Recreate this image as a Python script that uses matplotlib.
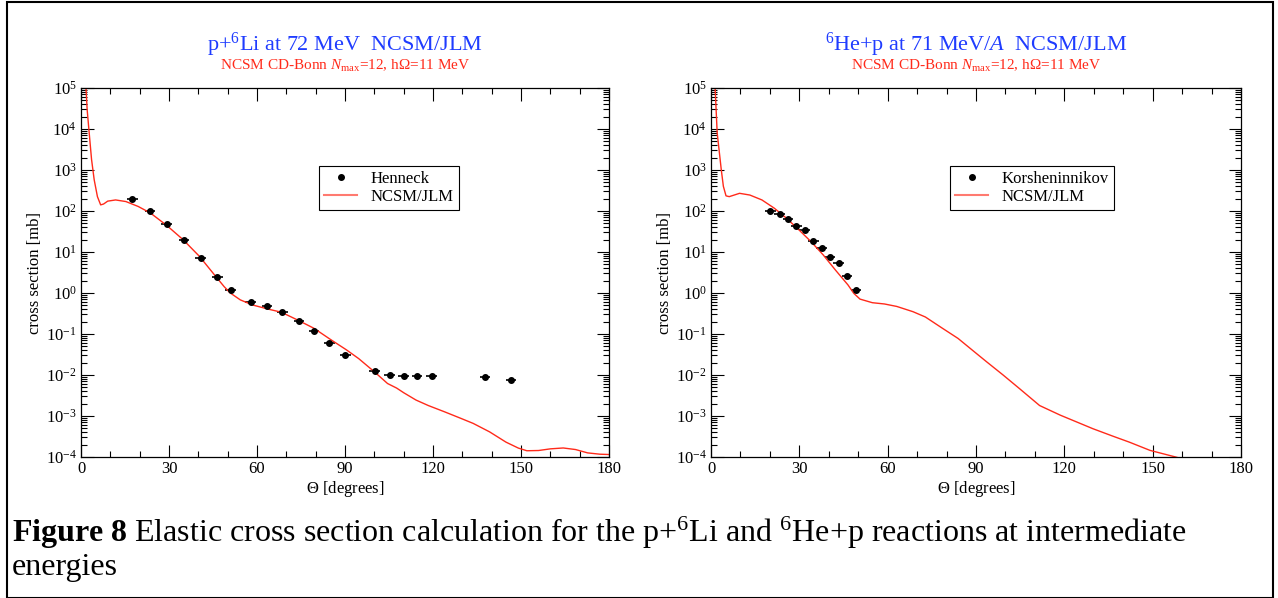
import numpy as np
import matplotlib
matplotlib.use('Agg')
import matplotlib.pyplot as plt
from matplotlib.patches import Rectangle
from matplotlib.lines import Line2D

plt.rcParams['font.family'] = ['Liberation Serif', 'DejaVu Serif']
plt.rcParams['mathtext.fontset'] = 'custom'
plt.rcParams['mathtext.rm'] = 'Liberation Serif'
plt.rcParams['mathtext.it'] = 'Liberation Serif:italic'
plt.rcParams['mathtext.bf'] = 'Liberation Serif:bold'

# p + 6Li at 72 MeV: Henneck data
henneck_theta = [17.5, 23.5, 29.2, 35.1, 40.8, 46.5, 51.0, 57.8, 63.4, 68.6, 74.3, 79.4, 84.7, 90.1,
                 100.1, 105.2, 110.0, 114.6, 119.5, 137.7, 146.6]
henneck_xs = [195, 99, 48, 20, 7.0, 2.45, 1.2, 0.59, 0.48, 0.34, 0.21, 0.116, 0.060, 0.031,
              0.0127, 0.0099, 0.0092, 0.0094, 0.0092, 0.0090, 0.0074]

# p + 6Li NCSM/JLM curve
li_theta = [1.7, 2.1, 2.8, 3.6, 4.5, 5.6, 6.7, 7.7, 9.1, 11.8, 15.3, 19.5, 23.7, 29.3, 34.8, 40.4,
            46.0, 48.8, 50.9, 54.3, 58.5, 64.1, 68.3, 73.8, 79.4, 85.0, 90.5, 94.7, 100.3, 104.5,
            107.6, 110.0, 114.2, 118.4, 124.0, 129.6, 133.7, 139.3, 144.9, 149.1, 152.0, 156.0,
            160.0, 164.4, 168.6, 172.7, 176.9, 180.0]
li_xs = [1e5, 2.95e4, 7.9e3, 1.8e3, 575, 224, 141, 148, 174, 186, 170, 129, 89, 44, 20, 7.8,
         2.5, 1.43, 1.0, 0.68, 0.51, 0.40, 0.34, 0.22, 0.138, 0.074, 0.041, 0.025, 0.0115, 0.0062,
         0.0048, 0.0037, 0.00245, 0.0018, 0.00126, 0.00087, 0.00066, 0.00041, 0.00023, 0.000165,
         0.000142, 0.000144, 0.000158, 0.000166, 0.000152, 0.000126, 0.000117, 0.000115]

# 6He + p at 71 MeV/A: Korsheninnikov data
kors_theta = [20.2, 23.3, 26.2, 29.0, 31.8, 34.8, 37.6, 40.4, 43.4, 46.2, 49.2]
kors_xs = [102, 83, 64, 42, 34, 18.6, 12.8, 7.4, 5.4, 2.56, 1.2]

# 6He + p NCSM/JLM curve
he_theta = [1.4, 2.1, 3.5, 4.2, 5.1, 6.2, 9.7, 13.2, 17.3, 21.5, 25.7, 29.8, 34.0, 38.1, 42.3,
            46.5, 48.5, 50.6, 54.8, 58.9, 63.1, 68.6, 72.8, 78.4, 83.9, 89.4, 93.6, 99.2, 104.7,
            111.6, 118.6, 124.1, 129.7, 136.6, 142.1, 149.1, 157.8, 160.0]
he_xs = [1e5, 8e3, 1000, 400, 234, 224, 270, 245, 186, 117, 66, 35, 17.8, 8.5, 3.6,
         1.58, 0.98, 0.71, 0.58, 0.54, 0.47, 0.35, 0.26, 0.141, 0.078, 0.037, 0.021, 0.010, 0.0047,
         0.0018, 0.00105, 0.00072, 0.00049, 0.00032, 0.00023, 0.000145, 0.0001, 0.00009]

x_err = 1.8
red = '#ff2a1a'

fig = plt.figure(figsize=(12.78, 5.98), dpi=100)

panels = [
    dict(rect=[81 / 1278, 1 - 457 / 598, 528 / 1278, 369 / 598],
         title=r'p+$^{6}$Li at 72 MeV  NCSM/JLM',
         data=(henneck_theta, henneck_xs, 'Henneck'), curve=(li_theta, li_xs)),
    dict(rect=[711 / 1278, 1 - 457 / 598, 530 / 1278, 369 / 598],
         title=r'$^{6}$He+p at 71 MeV/$A$  NCSM/JLM',
         data=(kors_theta, kors_xs, 'Korsheninnikov'), curve=(he_theta, he_xs)),
]

for p in panels:
    ax = fig.add_axes(p['rect'])
    th, xs, name = p['data']
    ax.errorbar(th, xs, xerr=x_err, fmt='o', color='black', ms=4, elinewidth=1.2, capsize=0)
    ax.plot(p['curve'][0], p['curve'][1], color=red, lw=1.0)
    ax.set_yscale('log')
    ax.set_xlim(0, 180)
    ax.set_ylim(1e-4, 1e5)
    ax.set_xticks(np.arange(0, 181, 30))
    ax.set_xticks(np.arange(0, 181, 10), minor=True)
    ax.set_yticks([10.0 ** k for k in range(-4, 6)])
    ax.yaxis.set_minor_locator(matplotlib.ticker.LogLocator(base=10, subs=np.arange(2, 10), numticks=20))
    ax.yaxis.set_minor_formatter(matplotlib.ticker.NullFormatter())
    ax.tick_params(which='both', direction='in', top=True, right=True, labelsize=12, pad=3)
    ax.tick_params(which='major', length=9, width=0.8)
    ax.tick_params(which='minor', length=4.5, width=0.8)
    for s in ax.spines.values():
        s.set_linewidth(0.9)
    ax.set_xlabel(r'$\Theta$ [degrees]', fontsize=12, labelpad=1)
    ax.set_ylabel('cross section [mb]', fontsize=12, labelpad=2)
    handles = [Line2D([], [], ls='none', marker='o', ms=4, color='black'),
               Line2D([], [], color='#ff7a70', lw=1.5)]
    leg = ax.legend(handles, [name, 'NCSM/JLM'], loc='upper left', bbox_to_anchor=(0.451, 0.789),
                    fontsize=12, frameon=True, fancybox=False, edgecolor='black', framealpha=1,
                    handlelength=2.0, borderpad=0.3, labelspacing=0.1, handletextpad=0.8,
                    borderaxespad=0)
    leg.get_frame().set_linewidth(0.8)
    cx = p['rect'][0] + p['rect'][2] / 2
    fig.text(cx, 1 - 45 / 598, p['title'], color='#1f3cff', fontsize=16, ha='center', va='center')
    fig.text(cx, 1 - 66 / 598, r'NCSM CD-Bonn $N_{\rm max}$=12, h$\Omega$=11 MeV', color=red,
             fontsize=11, ha='center', va='center')

fig.text(12 / 1278, 1 - 533 / 598,
         r'$\bf{Figure\ 8}$ Elastic cross section calculation for the p+$^{6}$Li and $^{6}$He+p reactions at intermediate',
         fontsize=23, ha='left', va='center')
fig.text(12 / 1278, 1 - 567 / 598, 'energies', fontsize=23, ha='left', va='center')

fig.patches.append(Rectangle((7 / 1278, 0.5 / 598), 1266 / 1278, 596 / 598, transform=fig.transFigure,
                             fill=False, edgecolor='black', lw=1.5))

fig.savefig('out.png', dpi=100)
